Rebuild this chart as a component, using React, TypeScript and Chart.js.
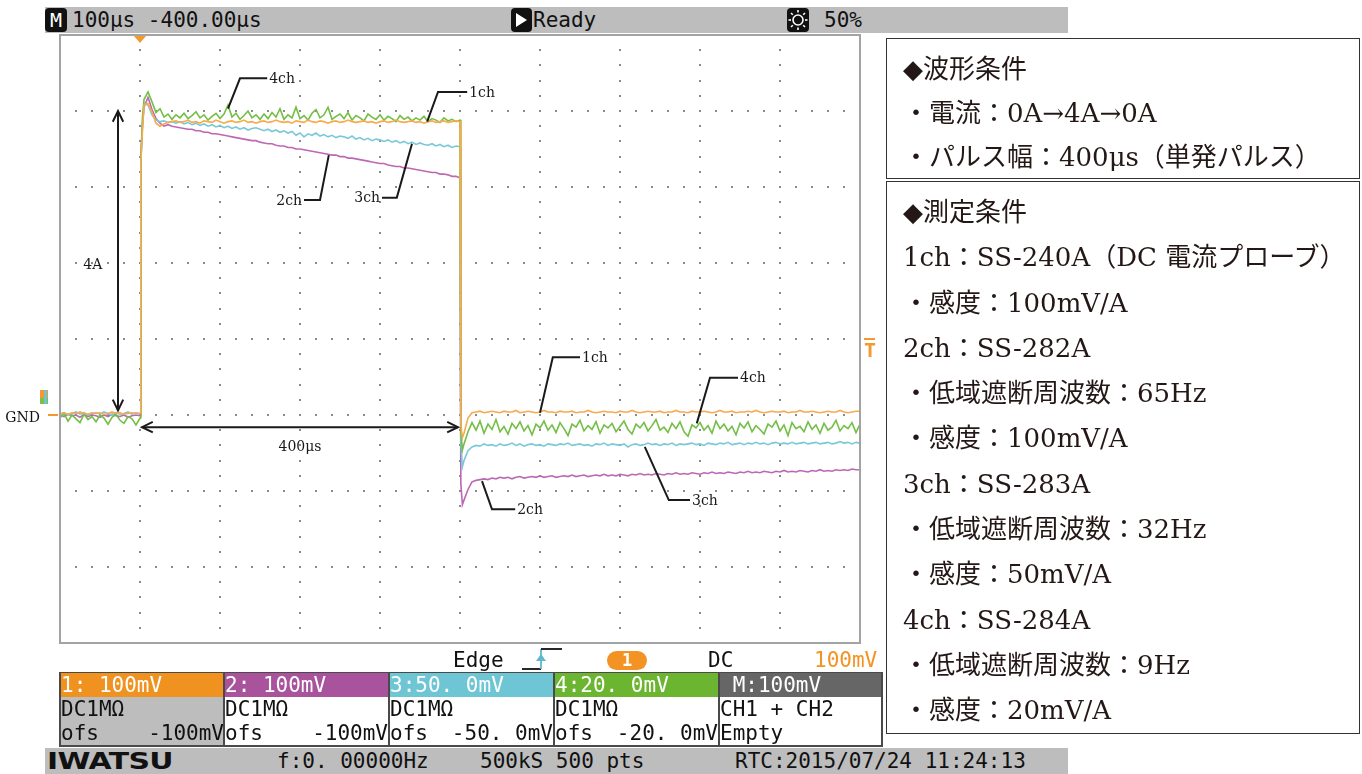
import React, { useEffect, useRef } from "react";
import { Chart, registerables } from "chart.js";

Chart.register(...registerables);

// ---------- axis (time in µs from trigger, current in A; 1 div = 100 µs / 1 A) ----------
const X_MIN_US = -100;
const X_MAX_US = 900;
const Y_MIN_A = -3;
const Y_MAX_A = 5;
const X_DIV_TICKS_US = [0, 100, 200, 300, 400, 500, 600, 700, 800];
const Y_DIV_TICKS_A = [-2, -1, 0, 1, 2, 3, 4];
const STEP_US = 5;
const PRE_START_US = -100;
const RISE_TIMES_US = [1, 3];
const PULSE_START_US = 5;
const FALL_TIMES_US = [401, 403];
const POST_START_US = 405;
const TRIGGER_TIME_US = 0;
const TRIGGER_LEVEL_A = 1;

// ---------- ch1 (orange) ----------
const CH1_PRE = [0.02, 0.03, 0.01, 0.03, 0.02, 0.04, 0.02, 0.01, 0.03, 0.02, 0.03, 0.01, 0.02, 0.04, 0.02, 0.03, 0.01, 0.02, 0.03, 0.02, 0.02];
const CH1_RISE = [3.3, 3.72];
const CH1_PULSE = [
  4.08, 4.1, 3.98, 3.84, 3.8, 3.83, 3.85, 3.86, 3.87, 3.85,
  3.86, 3.88, 3.85, 3.86, 3.84, 3.87, 3.86, 3.85, 3.88, 3.86,
  3.84, 3.86, 3.87, 3.85, 3.86, 3.88, 3.85, 3.86, 3.84, 3.86,
  3.87, 3.85, 3.86, 3.88, 3.86, 3.85, 3.86, 3.84, 3.87, 3.86,
  3.85, 3.88, 3.86, 3.85, 3.87, 3.86, 3.84, 3.86, 3.87, 3.85,
  3.86, 3.88, 3.86, 3.85, 3.86, 3.87, 3.85, 3.86, 3.84, 3.86,
  3.87, 3.85, 3.86, 3.88, 3.86, 3.85, 3.86, 3.87, 3.85, 3.86,
  3.84, 3.86, 3.87, 3.85, 3.86, 3.87, 3.85, 3.86, 3.87, 3.86,
];
const CH1_FALL = [-0.12, -0.3];
const CH1_POST = [
  -0.24, -0.04, 0.03, 0.04, 0.05, 0.03, 0.04, 0.05, 0.04, 0.03,
  0.05, 0.04, 0.04, 0.06, 0.03, 0.04, 0.05, 0.04, 0.03, 0.04,
  0.06, 0.04, 0.04, 0.03, 0.05, 0.04, 0.04, 0.05, 0.03, 0.04,
  0.04, 0.06, 0.04, 0.03, 0.04, 0.05, 0.04, 0.04, 0.03, 0.05,
  0.04, 0.04, 0.06, 0.04, 0.03, 0.04, 0.05, 0.04, 0.04, 0.05,
  0.03, 0.04, 0.04, 0.06, 0.04, 0.04, 0.03, 0.05, 0.04, 0.04,
  0.05, 0.04, 0.03, 0.04, 0.06, 0.04, 0.04, 0.05, 0.03, 0.04,
  0.04, 0.05, 0.04, 0.06, 0.04, 0.03, 0.04, 0.05, 0.04, 0.04,
  0.05, 0.03, 0.04, 0.04, 0.06, 0.04, 0.04, 0.05, 0.04, 0.03,
  0.04, 0.05, 0.04, 0.04, 0.06, 0.04, 0.03, 0.04, 0.05, 0.05,
];

// ---------- ch2 (magenta) ----------
const CH2_PRE = [0.0, -0.02, 0.01, -0.01, 0.0, -0.03, 0.01, -0.02, 0.0, -0.01, -0.03, 0.0, -0.02, 0.01, -0.01, -0.02, 0.0, -0.03, -0.01, 0.0, -0.01];
const CH2_RISE = [3.4, 3.8];
const CH2_PULSE = [
  4.05, 4.18, 4.02, 3.9, 3.84, 3.8, 3.82, 3.8, 3.79, 3.78,
  3.77, 3.76, 3.76, 3.74, 3.74, 3.72, 3.72, 3.7, 3.7, 3.69,
  3.68, 3.67, 3.66, 3.65, 3.64, 3.63, 3.62, 3.61, 3.61, 3.59,
  3.58, 3.57, 3.57, 3.55, 3.54, 3.54, 3.52, 3.52, 3.5, 3.5,
  3.49, 3.48, 3.47, 3.46, 3.45, 3.44, 3.43, 3.42, 3.42, 3.4,
  3.4, 3.38, 3.38, 3.37, 3.36, 3.35, 3.34, 3.33, 3.32, 3.31,
  3.31, 3.29, 3.28, 3.27, 3.27, 3.25, 3.25, 3.24, 3.23, 3.22,
  3.21, 3.2, 3.19, 3.19, 3.17, 3.17, 3.16, 3.14, 3.14, 3.12,
];
const CH2_FALL = [-0.9, -1.18];
const CH2_POST = [
  -1.12, -0.98, -0.88, -0.86, -0.85, -0.84, -0.85, -0.83, -0.84, -0.82,
  -0.83, -0.82, -0.84, -0.82, -0.81, -0.83, -0.82, -0.81, -0.82, -0.8,
  -0.82, -0.81, -0.8, -0.82, -0.81, -0.8, -0.81, -0.79, -0.81, -0.8,
  -0.79, -0.81, -0.8, -0.79, -0.8, -0.78, -0.8, -0.79, -0.8, -0.78,
  -0.79, -0.8, -0.78, -0.79, -0.77, -0.79, -0.78, -0.79, -0.77, -0.78,
  -0.79, -0.77, -0.78, -0.76, -0.78, -0.77, -0.78, -0.76, -0.77, -0.78,
  -0.76, -0.77, -0.75, -0.77, -0.76, -0.77, -0.75, -0.76, -0.77, -0.75,
  -0.76, -0.74, -0.76, -0.75, -0.76, -0.74, -0.75, -0.76, -0.74, -0.75,
  -0.73, -0.75, -0.74, -0.75, -0.73, -0.74, -0.75, -0.73, -0.74, -0.72,
  -0.74, -0.73, -0.74, -0.72, -0.73, -0.72, -0.73, -0.71, -0.72, -0.72,
];

// ---------- ch3 (cyan) ----------
const CH3_PRE = [0.01, 0.03, 0.0, 0.02, 0.04, 0.01, 0.03, 0.0, 0.02, 0.03, 0.01, 0.04, 0.02, 0.0, 0.03, 0.01, 0.02, 0.04, 0.01, 0.03, 0.02];
const CH3_RISE = [3.35, 3.78];
const CH3_PULSE = [
  4.1, 4.08, 3.95, 3.88, 3.86, 3.87, 3.85, 3.86, 3.84, 3.86,
  3.83, 3.85, 3.82, 3.84, 3.81, 3.83, 3.8, 3.82, 3.79, 3.81,
  3.78, 3.8, 3.77, 3.79, 3.76, 3.78, 3.75, 3.77, 3.78, 3.76,
  3.74, 3.76, 3.73, 3.75, 3.72, 3.74, 3.71, 3.73, 3.68, 3.71,
  3.66, 3.7, 3.68, 3.71, 3.67, 3.69, 3.66, 3.68, 3.65, 3.67,
  3.66, 3.64, 3.67, 3.63, 3.65, 3.62, 3.64, 3.61, 3.63, 3.62,
  3.6, 3.62, 3.59, 3.61, 3.58, 3.6, 3.57, 3.59, 3.56, 3.58,
  3.56, 3.55, 3.57, 3.54, 3.56, 3.53, 3.55, 3.52, 3.54, 3.53,
];
const CH3_FALL = [-0.35, -0.68];
const CH3_POST = [
  -0.6, -0.47, -0.42, -0.4, -0.41, -0.38, -0.4, -0.39, -0.41, -0.38,
  -0.4, -0.39, -0.37, -0.4, -0.38, -0.41, -0.39, -0.38, -0.4, -0.39,
  -0.41, -0.38, -0.39, -0.4, -0.38, -0.39, -0.37, -0.4, -0.39, -0.38,
  -0.4, -0.39, -0.41, -0.38, -0.39, -0.37, -0.4, -0.38, -0.39, -0.4,
  -0.38, -0.42, -0.39, -0.38, -0.4, -0.39, -0.37, -0.39, -0.38, -0.4,
  -0.38, -0.39, -0.37, -0.4, -0.38, -0.39, -0.38, -0.37, -0.39, -0.38,
  -0.4, -0.37, -0.38, -0.39, -0.37, -0.38, -0.36, -0.39, -0.38, -0.37,
  -0.39, -0.37, -0.38, -0.36, -0.38, -0.37, -0.39, -0.37, -0.36, -0.38,
  -0.37, -0.38, -0.36, -0.38, -0.37, -0.36, -0.38, -0.37, -0.36, -0.38,
  -0.37, -0.36, -0.38, -0.37, -0.35, -0.37, -0.36, -0.38, -0.36, -0.37,
];

// ---------- ch4 (green) ----------
const CH4_PRE = [-0.04, 0.02, -0.08, 0.0, -0.05, -0.1, 0.01, -0.06, -0.02, -0.09, 0.0, -0.04, -0.12, -0.03, 0.01, -0.07, -0.11, -0.02, -0.05, -0.13, -0.04];
const CH4_RISE = [3.3, 3.9];
const CH4_PULSE = [
  4.15, 4.25, 4.12, 3.98, 4.03, 3.92, 3.96, 3.89, 3.95, 3.91,
  3.97, 3.9, 3.94, 3.99, 3.91, 3.95, 3.88, 3.93, 3.97, 3.9,
  3.96, 4.08, 3.92, 3.97, 3.89, 3.94, 4.0, 3.91, 3.95, 3.89,
  3.96, 3.9, 3.98, 3.92, 4.03, 3.89, 3.95, 3.91, 4.05, 3.9,
  3.94, 3.88, 3.97, 4.02, 3.91, 3.95, 4.05, 3.89, 3.93, 3.96,
  3.9, 3.98, 3.88, 3.94, 3.91, 3.87, 3.96, 3.92, 3.89, 3.95,
  3.88, 3.93, 3.9, 3.86, 3.94, 3.89, 3.92, 3.87, 3.91, 3.88,
  3.93, 3.86, 3.9, 3.88, 3.85, 3.91, 3.87, 3.89, 3.86, 3.88,
];
const CH4_FALL = [-0.2, -0.46];
const CH4_POST = [
  -0.38, -0.22, -0.1, -0.2, -0.08, -0.24, -0.12, -0.19, -0.06, -0.22,
  -0.15, -0.25, -0.11, -0.18, -0.09, -0.21, -0.14, -0.26, -0.12, -0.17,
  -0.08, -0.2, -0.13, -0.23, -0.1, -0.18, -0.27, -0.12, -0.16, -0.07,
  -0.21, -0.14, -0.19, -0.09, -0.24, -0.13, -0.17, -0.11, -0.22, -0.15,
  -0.08, -0.19, -0.25, -0.12, -0.17, -0.1, -0.21, -0.14, -0.06, -0.2,
  -0.16, -0.23, -0.11, -0.18, -0.09, -0.22, -0.28, -0.13, -0.17, -0.1,
  -0.2, -0.14, -0.24, -0.08, -0.18, -0.12, -0.21, -0.15, -0.26, -0.11,
  -0.17, -0.09, -0.22, -0.14, -0.19, -0.25, -0.12, -0.16, -0.08, -0.21,
  -0.13, -0.27, -0.1, -0.18, -0.15, -0.22, -0.09, -0.19, -0.13, -0.24,
  -0.11, -0.2, -0.16, -0.07, -0.21, -0.14, -0.18, -0.1, -0.23, -0.12,
];

// ---------- annotations (in data units) ----------
const CALLOUTS = [
  { text: "4ch", tip: [110, 4.03], elbow: [125, 4.43], end: [159, 4.43], side: "right" },
  { text: "1ch", tip: [359, 3.86], elbow: [372.5, 4.25], end: [409, 4.25], side: "right" },
  { text: "2ch", tip: [236, 3.42], elbow: [225, 2.83], end: [205, 2.83], side: "left" },
  { text: "3ch", tip: [340, 3.57], elbow: [321, 2.86], end: [302.5, 2.86], side: "left" },
  { text: "1ch", tip: [500, 0.03], elbow: [516, 0.76], end: [550, 0.76], side: "right" },
  { text: "4ch", tip: [696, -0.11], elbow: [712.5, 0.49], end: [747.5, 0.49], side: "right" },
  { text: "3ch", tip: [631, -0.42], elbow: [661, -1.12], end: [687.5, -1.12], side: "right" },
  { text: "2ch", tip: [427.5, -0.87], elbow: [440, -1.24], end: [469, -1.24], side: "right" },
];
const AMP_ARROW = { t: -27.5, from: 0.06, to: 4.0, label: "4A", labelT: -59, labelA: 1.97 };
const WIDTH_ARROW = { a: -0.16, from: 2.5, to: 397.5, label: "400μs", labelT: 200, labelA: -0.43 };

// ---------- texts ----------
const TOP_TIMEBASE = "100µs -400.00µs";
const TOP_STATE = "Ready";
const TOP_BRIGHT = "50%";
const CH_HEADERS = ["1: 100mV", "2: 100mV", "3:50. 0mV", "4:20. 0mV", " M:100mV"];
const CH_COLORS = ["#f0921f", "#a9539d", "#6ec6d4", "#6bb530", "#666666"];
const CH_LINE1 = ["DC1MΩ", "DC1MΩ", "DC1MΩ", "DC1MΩ", "CH1 + CH2"];
const CH_LINE2_LEFT = ["ofs", "ofs", "ofs", "ofs", "Empty"];
const CH_LINE2_RIGHT = ["-100mV", "-100mV", "-50. 0mV", "-20. 0mV", ""];
const PANEL1 = ["◆波形条件", "・電流：0A→4A→0A", "・パルス幅：400μs（単発パルス）"];
const PANEL2 = [
  "◆測定条件",
  "1ch：SS-240A（DC 電流プローブ）",
  "・感度：100mV/A",
  "2ch：SS-282A",
  "・低域遮断周波数：65Hz",
  "・感度：100mV/A",
  "3ch：SS-283A",
  "・低域遮断周波数：32Hz",
  "・感度：50mV/A",
  "4ch：SS-284A",
  "・低域遮断周波数：9Hz",
  "・感度：20mV/A",
];

const MONO = '"DejaVu Sans Mono", "Liberation Mono", monospace';
const SERIF = '"DejaVu Serif", "Noto Sans CJK JP", serif';
const PANEL_FONT = '"DejaVu Serif", "Noto Sans CJK JP", serif';

type Pt = { x: number; y: number };
function segment(values: number[], start: number): Pt[] {
  return values.map((v, i) => ({ x: start + i * STEP_US, y: v }));
}
function at(times: number[], values: number[]): Pt[] {
  return values.map((v, i) => ({ x: times[i], y: v }));
}
function series(pre: number[], rise: number[], pulse: number[], fall: number[], post: number[]): Pt[] {
  return [
    ...segment(pre, PRE_START_US),
    ...at(RISE_TIMES_US, rise),
    ...segment(pulse, PULSE_START_US),
    ...at(FALL_TIMES_US, fall),
    ...segment(post, POST_START_US),
  ];
}

function arrowHead(ctx: CanvasRenderingContext2D, x: number, y: number, ang: number) {
  const len = 12;
  const spread = 0.45;
  ctx.beginPath();
  ctx.moveTo(x - len * Math.cos(ang - spread), y - len * Math.sin(ang - spread));
  ctx.lineTo(x, y);
  ctx.lineTo(x - len * Math.cos(ang + spread), y - len * Math.sin(ang + spread));
  ctx.stroke();
}

const scopePlugin = {
  id: "scopeDecor",
  beforeDatasetsDraw(chart: any) {
    const { ctx, chartArea: a } = chart;
    const xs = chart.scales.x;
    const ys = chart.scales.y;
    ctx.save();
    ctx.fillStyle = "#ffffff";
    ctx.fillRect(a.left, a.top, a.right - a.left, a.bottom - a.top);
    ctx.fillStyle = "#8a8a8a";
    const dx = (xs.getPixelForValue(100) - xs.getPixelForValue(0)) / 5;
    const dy = (ys.getPixelForValue(0) - ys.getPixelForValue(1)) / 5;
    X_DIV_TICKS_US.forEach((t) => {
      const x = Math.round(xs.getPixelForValue(t));
      for (let y = a.top + dy; y < a.bottom - 2; y += dy) ctx.fillRect(x - 1, Math.round(y) - 1, 2, 2);
    });
    Y_DIV_TICKS_A.forEach((v) => {
      const y = Math.round(ys.getPixelForValue(v));
      for (let x = a.left + dx; x < a.right - 2; x += dx) ctx.fillRect(Math.round(x) - 1, y - 1, 2, 2);
    });
    ctx.restore();
  },
  afterDatasetsDraw(chart: any) {
    const { ctx, chartArea: a } = chart;
    const xs = chart.scales.x;
    const ys = chart.scales.y;
    const X = (t: number) => xs.getPixelForValue(t);
    const Y = (v: number) => ys.getPixelForValue(v);
    ctx.save();
    // frame
    ctx.strokeStyle = "#a3a3a3";
    ctx.lineWidth = 2;
    ctx.strokeRect(a.left, a.top, a.right - a.left, a.bottom - a.top);
    // trigger position marker
    ctx.fillStyle = "#f39a2e";
    const tx = X(TRIGGER_TIME_US);
    ctx.beginPath();
    ctx.moveTo(tx - 6, a.top + 1);
    ctx.lineTo(tx + 6, a.top + 1);
    ctx.lineTo(tx, a.top + 8);
    ctx.closePath();
    ctx.fill();
    // trigger level marker (T)
    const ty = Y(TRIGGER_LEVEL_A);
    ctx.fillRect(a.right + 4, ty - 1, 11, 2);
    ctx.font = "bold 20px " + MONO;
    ctx.textAlign = "center";
    ctx.textBaseline = "top";
    ctx.fillText("T", a.right + 10, ty + 3);
    // GND marker
    const gy = Y(0);
    ctx.fillRect(a.left - 12, gy - 1, 10, 2);
    ctx.fillStyle = "#f39a2e";
    ctx.fillRect(a.left - 20, gy - 25, 8, 8);
    ctx.fillStyle = "#7cc04a";
    ctx.fillRect(a.left - 20, gy - 17, 8, 6);
    ctx.fillStyle = "#6ec6d4";
    ctx.fillRect(a.left - 16, gy - 25, 3, 14);
    ctx.fillStyle = "#111";
    ctx.font = "14px " + SERIF;
    ctx.textAlign = "right";
    ctx.textBaseline = "middle";
    ctx.fillText("GND", a.left - 20, gy + 3);

    // annotations
    ctx.strokeStyle = "#1a1a1a";
    ctx.fillStyle = "#1a1a1a";
    ctx.lineWidth = 2;
    // vertical 4A arrow
    const ax = X(AMP_ARROW.t);
    const ay1 = Y(AMP_ARROW.to);
    const ay2 = Y(AMP_ARROW.from);
    ctx.beginPath();
    ctx.moveTo(ax, ay1);
    ctx.lineTo(ax, ay2);
    ctx.stroke();
    arrowHead(ctx, ax, ay1, -Math.PI / 2);
    arrowHead(ctx, ax, ay2, Math.PI / 2);
    ctx.font = "14px " + SERIF;
    ctx.textAlign = "center";
    ctx.textBaseline = "middle";
    ctx.fillText(AMP_ARROW.label, X(AMP_ARROW.labelT), Y(AMP_ARROW.labelA));
    // horizontal 400µs arrow
    const hy = Y(WIDTH_ARROW.a);
    const hx1 = X(WIDTH_ARROW.from);
    const hx2 = X(WIDTH_ARROW.to);
    ctx.beginPath();
    ctx.moveTo(hx1, hy);
    ctx.lineTo(hx2, hy);
    ctx.stroke();
    arrowHead(ctx, hx1, hy, Math.PI);
    arrowHead(ctx, hx2, hy, 0);
    ctx.fillText(WIDTH_ARROW.label, X(WIDTH_ARROW.labelT), Y(WIDTH_ARROW.labelA));
    // callouts
    ctx.font = "14px " + SERIF;
    CALLOUTS.forEach((c) => {
      const ex = X(c.elbow[0]);
      const ey = Y(c.elbow[1]);
      const nx = X(c.end[0]);
      ctx.beginPath();
      ctx.moveTo(X(c.tip[0]), Y(c.tip[1]));
      ctx.lineTo(ex, ey);
      ctx.lineTo(nx, ey);
      ctx.stroke();
      ctx.textAlign = c.side === "right" ? "left" : "right";
      ctx.fillText(c.text, c.side === "right" ? nx + 2 : nx - 2, ey + 1);
    });
    ctx.restore();
  },
};

const abs = (left: number, top: number, width: number, height: number, extra: any = {}): any => ({
  position: "absolute",
  left,
  top,
  width,
  height,
  boxSizing: "border-box",
  ...extra,
});

function ScopeChart() {
  const ref = useRef<HTMLCanvasElement>(null);
  useEffect(() => {
    if (!ref.current) return;
    const chart = new Chart(ref.current, {
      type: "line",
      data: {
        datasets: [
          { label: "1ch", data: series(CH1_PRE, CH1_RISE, CH1_PULSE, CH1_FALL, CH1_POST), borderColor: "#f7aa4e" },
          { label: "4ch", data: series(CH4_PRE, CH4_RISE, CH4_PULSE, CH4_FALL, CH4_POST), borderColor: "#73be45" },
          { label: "3ch", data: series(CH3_PRE, CH3_RISE, CH3_PULSE, CH3_FALL, CH3_POST), borderColor: "#79c9d8" },
          { label: "2ch", data: series(CH2_PRE, CH2_RISE, CH2_PULSE, CH2_FALL, CH2_POST), borderColor: "#bd68b4" },
        ],
      },
      options: {
        animation: false,
        responsive: false,
        devicePixelRatio: 1,
        layout: { padding: { left: 60, top: 35, right: 502, bottom: 131 } },
        scales: {
          x: { type: "linear", min: X_MIN_US, max: X_MAX_US, display: false },
          y: { type: "linear", min: Y_MIN_A, max: Y_MAX_A, display: false },
        },
        elements: {
          point: { radius: 0 },
          line: { borderWidth: 1.6, tension: 0, fill: false },
        },
        plugins: { legend: { display: false }, tooltip: { enabled: false } },
      },
      plugins: [scopePlugin],
    });
    return () => chart.destroy();
  }, []);
  return <canvas ref={ref} width={1362} height={774} style={{ position: "absolute", left: 0, top: 0 }} />;
}

const monoText: any = { fontFamily: MONO, fontSize: 21, lineHeight: "24px", whiteSpace: "pre", color: "#111" };

function ChannelBox({ i }: { i: number }) {
  const left = [59, 223, 388, 553, 718][i];
  return (
    <div style={abs(left, 672, 165, 75, { border: "2px solid #4a4a4a", borderRight: i === 4 ? "2px solid #4a4a4a" : "none", background: i === 0 ? "#bdbdbd" : "#fff" })}>
      <div style={{ ...monoText, background: CH_COLORS[i], color: "#fff", height: 24, marginTop: -1 }}>{CH_HEADERS[i]}</div>
      <div style={{ ...monoText }}>{CH_LINE1[i]}</div>
      <div style={{ ...monoText, display: "flex", justifyContent: "space-between" }}>
        <span>{CH_LINE2_LEFT[i]}</span>
        <span>{CH_LINE2_RIGHT[i]}</span>
      </div>
    </div>
  );
}

export default function App() {
  return (
    <div style={abs(0, 0, 1362, 774, { background: "#fff", overflow: "hidden" })}>
      <ScopeChart />
      {/* top status bar */}
      <div style={abs(45, 7, 1023, 26, { background: "#bdbdbd" })} />
      <div style={abs(45, 8, 22, 24, { background: "#111", borderRadius: 4, color: "#fff", fontFamily: MONO, fontSize: 20, lineHeight: "24px", textAlign: "center" })}>M</div>
      <div style={{ ...abs(72, 8, 300, 24), ...monoText }}>{TOP_TIMEBASE}</div>
      <svg style={abs(511, 8, 21, 24)} viewBox="0 0 21 24">
        <rect x="0" y="0" width="21" height="24" rx="4" fill="#111" />
        <path d="M5 5 L16 12 L5 19 Z" fill="#fff" />
      </svg>
      <div style={{ ...abs(533, 8, 100, 24), ...monoText }}>{TOP_STATE}</div>
      <svg style={abs(787, 8, 22, 24)} viewBox="0 0 22 24">
        <rect x="0" y="0" width="22" height="24" rx="4" fill="#111" />
        <circle cx="11" cy="12" r="5" fill="none" stroke="#fff" strokeWidth="1.6" />
        <g stroke="#fff" strokeWidth="1.6">
          <line x1="11" y1="2" x2="11" y2="4.5" />
          <line x1="11" y1="19.5" x2="11" y2="22" />
          <line x1="1.5" y1="12" x2="4" y2="12" />
          <line x1="18" y1="12" x2="20.5" y2="12" />
          <line x1="4" y1="5" x2="5.8" y2="6.8" />
          <line x1="16.2" y1="17.2" x2="18" y2="19" />
          <line x1="18" y1="5" x2="16.2" y2="6.8" />
          <line x1="4" y1="19" x2="5.8" y2="17.2" />
        </g>
      </svg>
      <div style={{ ...abs(824, 8, 80, 24), ...monoText }}>{TOP_BRIGHT}</div>

      {/* trigger row */}
      <div style={{ ...abs(453, 648, 80, 24), ...monoText }}>Edge</div>
      <svg style={abs(520, 646, 44, 26)} viewBox="0 0 44 26">
        <path d="M2 23 H21" stroke="#111" strokeWidth="1.8" fill="none" />
        <path d="M21 23 V3" stroke="#5fb8d0" strokeWidth="1.8" fill="none" />
        <path d="M21 3 H42" stroke="#111" strokeWidth="1.8" fill="none" />
        <path d="M16 15 L21 8 L26 15 Z" fill="#5fb8d0" />
      </svg>
      <div style={abs(607, 651, 40, 19, { background: "#f39323", borderRadius: 10, color: "#fff", fontFamily: MONO, fontWeight: "bold", fontSize: 17, lineHeight: "19px", textAlign: "center" })}>1</div>
      <div style={{ ...abs(708, 648, 60, 24), ...monoText }}>DC</div>
      <div style={{ ...abs(814, 648, 80, 24), ...monoText, color: "#f39323" }}>100mV</div>

      {[0, 1, 2, 3, 4].map((i) => (
        <ChannelBox key={i} i={i} />
      ))}

      {/* bottom status bar */}
      <div style={abs(45, 748, 1023, 26, { background: "#bdbdbd" })} />
      <div style={abs(47, 748, 130, 26, { fontFamily: '"DejaVu Sans", sans-serif', fontWeight: 900, fontSize: 23, lineHeight: "27px", color: "#111", transform: "scaleX(1.3)", transformOrigin: "left center", letterSpacing: -0.5 })}>IWATSU</div>
      <div style={{ ...abs(277, 749, 200, 24), ...monoText }}>f:0. 00000Hz</div>
      <div style={{ ...abs(480, 749, 200, 24), ...monoText }}>500kS 500 pts</div>
      <div style={{ ...abs(735, 749, 320, 24), ...monoText }}>RTC:2015/07/24 11:24:13</div>

      {/* right info panel */}
      <div style={abs(886, 38, 474, 141, { border: "1.5px solid #333", padding: "8px 0 0 16px" })}>
        {PANEL1.map((s, k) => (
          <div key={k} style={{ fontFamily: PANEL_FONT, fontSize: 26, lineHeight: "44px", color: "#231815", whiteSpace: "pre" }}>{s}</div>
        ))}
      </div>
      <div style={abs(886, 181, 474, 553, { border: "1.5px solid #333", padding: "8px 0 0 16px" })}>
        {PANEL2.map((s, k) => (
          <div key={k} style={{ fontFamily: PANEL_FONT, fontSize: 26, lineHeight: "45.3px", color: "#231815", whiteSpace: "pre" }}>{s}</div>
        ))}
      </div>
    </div>
  );
}
